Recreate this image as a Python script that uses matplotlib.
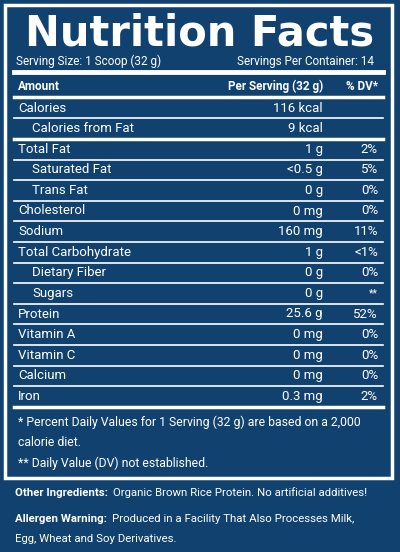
import matplotlib
matplotlib.use("Agg")
import matplotlib.pyplot as plt

nutrients = ["Calories", "Calories from Fat", "Total Fat", "Saturated Fat", "Trans Fat",
             "Cholesterol", "Sodium", "Total Carbohydrate", "Dietary Fiber", "Sugars",
             "Protein", "Vitamin A", "Vitamin C", "Calcium", "Iron"]
amounts = ["116 kcal", "9 kcal", "1 g", "<0.5 g", "0 g", "0 mg", "160 mg", "1 g", "0 g", "0 g",
           "25.6 g", "0 mg", "0 mg", "0 mg", "0.3 mg"]
dvs = ["", "", "2%", "5%", "0%", "0%", "11%", "<1%", "0%", "**", "52%", "0%", "0%", "0%", "2%"]
indented = [False, True, False, True, True, False, False, False, True, True,
            False, False, False, False, False]

BG = "#11426f"
W = "white"
F = ["Roboto", "DejaVu Sans"]

fig = plt.figure(figsize=(4, 5.52), dpi=100, facecolor=BG)
ax = fig.add_axes([0, 0, 1, 1])
ax.set_xlim(0, 400); ax.set_ylim(552, 0); ax.axis("off")

ax.add_patch(plt.Rectangle((5, 5), 387, 473, fill=False, ec=W, lw=2.5))

ax.text(200, 33, "Nutrition Facts", color=W, fontsize=30, fontweight="heavy",
        family="DejaVu Sans", va="center", ha="center")
ax.text(16, 61, "Serving Size: 1 Scoop (32 g)", color=W, fontsize=8.5, family=F, va="center")
ax.text(374, 61, "Servings Per Container: 14", color=W, fontsize=8.5, family=F, va="center", ha="right")
ax.plot([14, 383], [72, 72], color=W, lw=3.5)
ax.text(18, 86, "Amount", color=W, fontsize=8.5, fontweight="bold", family=F, va="center")
ax.text(323, 86, "Per Serving (32 g)", color=W, fontsize=8.5, fontweight="bold", family=F, va="center", ha="right")
ax.text(378, 86, "% DV*", color=W, fontsize=8.5, fontweight="bold", family=F, va="center", ha="right")
ax.plot([14, 383], [97, 97], color=W, lw=2.5)

y0, step = 108, 20.6
for i, (n, a, d, ind) in enumerate(zip(nutrients, amounts, dvs, indented)):
    y = y0 + i * step
    ax.text(32 if ind else 18, y, n, color=W, fontsize=9.5, family=F, va="center")
    ax.text(323, y, a, color=W, fontsize=9.5, family=F, va="center", ha="right")
    ax.text(378, y, d, color=W, fontsize=9.5 if d != "**" else 7.5, family=F, va="center", ha="right")
    ysep = y + 10.3
    lw = 2.5 if i in (1, len(nutrients) - 1) else 1.2
    ax.plot([14, 383], [ysep, ysep], color=W, lw=lw)

ax.text(18, 422, "* Percent Daily Values for 1 Serving (32 g) are based on a 2,000",
        color=W, fontsize=8.8, family=F, va="center")
ax.text(18, 442, "calorie diet.", color=W, fontsize=8.8, family=F, va="center")
ax.text(18, 463, "** Daily Value (DV) not established.", color=W, fontsize=8.8, family=F, va="center")

fig.canvas.draw()
r = fig.canvas.get_renderer()
inv = ax.transData.inverted()
for lab, rest, y in [("Other Ingredients: ", "Organic Brown Rice Protein. No artificial additives!", 493),
                     ("Allergen Warning: ", "Produced in a Facility That Also Processes Milk,", 519)]:
    t = ax.text(15, y, lab, color=W, fontsize=8.2, fontweight="bold", family=F, va="center")
    bb = t.get_window_extent(r)
    x1 = inv.transform((bb.x1, bb.y0))[0]
    ax.text(x1 + 2, y, rest, color=W, fontsize=8.2, family=F, va="center")
ax.text(15, 539, "Egg, Wheat and Soy Derivatives.", color=W, fontsize=8.2, family=F, va="center")

fig.savefig("out.png", dpi=100, facecolor=BG)
